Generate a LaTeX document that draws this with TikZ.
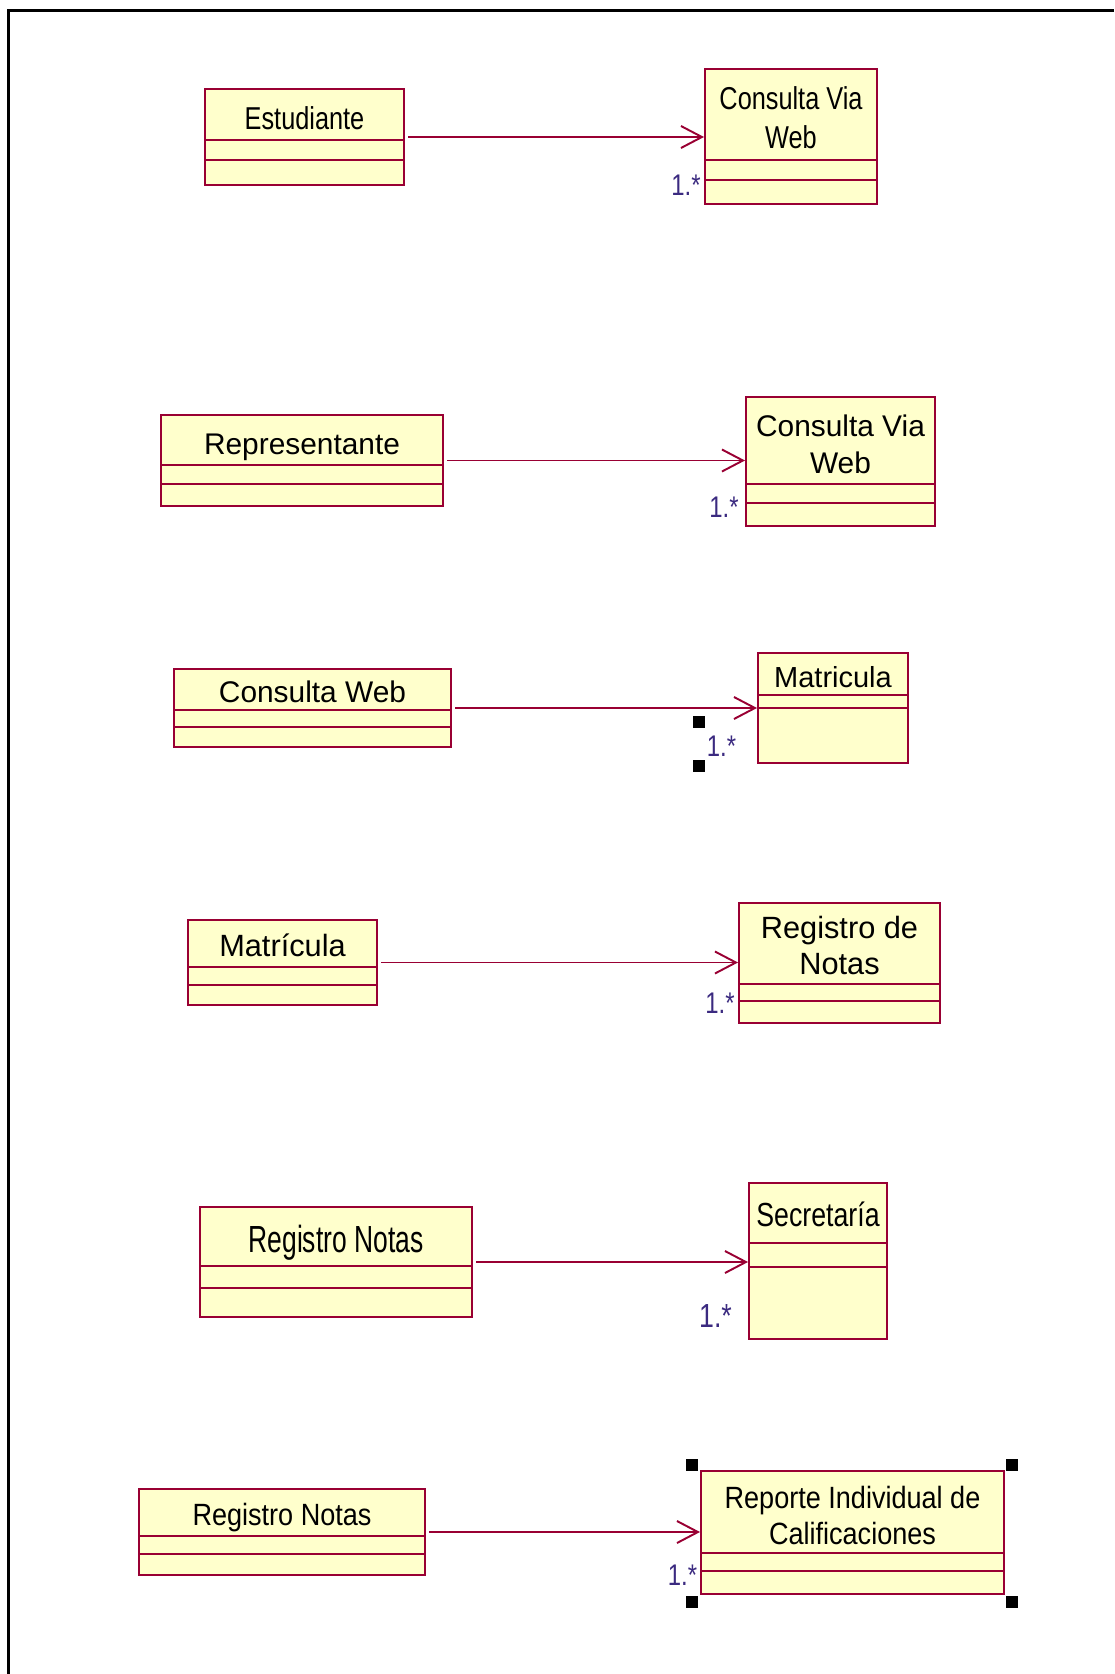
\documentclass[tikz,border=0pt]{standalone}
\usepackage{fontspec}
\setmainfont{Liberation Sans}
\newfontfamily\narrowfont[FakeStretch=0.8]{Liberation Sans}
\newfontfamily\slimfont[FakeStretch=0.88]{Liberation Sans}
\newfontfamily\tallfont[FakeStretch=0.7]{Liberation Sans}
\usetikzlibrary{arrows.meta,positioning}

\definecolor{classline}{HTML}{990033}
\definecolor{classfill}{HTML}{FFFFCC}
\definecolor{multtext}{HTML}{3B2A80}

\begin{document}
\begin{tikzpicture}[
    >={Straight Barb[length=4.2mm,width=4.4mm]},
    line width=1.1pt,
    class/.style={draw=classline, fill=classfill, inner sep=0pt},
    classname/.style={anchor=base, align=center, inner sep=0pt, font=\fontsize{17}{21}\selectfont},
    divider/.style={draw=classline},
    assoc/.style={->, draw=classline, shorten <=2pt},
    mult/.style={anchor=base, text=multtext, inner sep=0pt, font=\narrowfont\fontsize{17}{20}\selectfont},
    handle/.style={fill=black, minimum size=2.4mm, inner sep=0pt}
]
    \useasboundingbox (0,0) rectangle (22.28,-33.48);
    \draw[line width=1.4pt] (22.28,-0.21) -- (0.17,-0.21) -- (0.17,-33.48);

    % Estudiante -> Consulta Via Web
    % (two-line names sit on the baseline of their last line)
    \node[class, minimum width=3.98cm, minimum height=1.92cm] (estudiante) at (6.09,-2.74) {};
    \draw[divider] (4.10,-2.80) -- (8.08,-2.80);
    \draw[divider] (4.10,-3.20) -- (8.08,-3.20);
    \node[classname, font=\narrowfont\fontsize{18}{22}\selectfont] at (6.09,-2.59) {Estudiante};

    \node[class, minimum width=3.44cm, minimum height=2.70cm] (viaweb1) at (15.82,-2.73) {};
    \draw[divider] (14.10,-3.20) -- (17.54,-3.20);
    \draw[divider] (14.10,-3.60) -- (17.54,-3.60);
    \node[classname, font=\narrowfont\fontsize{18}{22}\selectfont] at (15.82,-2.97) {Consulta Via\\Web};

    \draw[assoc] (estudiante.east) -- (estudiante.east -| viaweb1.west);
    \node[mult] (m1) at (13.72,-3.90) {1.*};

    % Representante -> Consulta Via Web
    \node[class, minimum width=5.64cm, minimum height=1.82cm] (representante) at (6.04,-9.21) {};
    \draw[divider] (3.22,-9.30) -- (8.86,-9.30);
    \draw[divider] (3.22,-9.68) -- (8.86,-9.68);
    \node[classname] at (6.04,-9.08) {Representante};

    \node[class, minimum width=3.78cm, minimum height=2.58cm] (viaweb2) at (16.81,-9.23) {};
    \draw[divider] (14.92,-9.68) -- (18.70,-9.68);
    \draw[divider] (14.92,-10.06) -- (18.70,-10.06);
    \node[classname] at (16.81,-9.46) {Consulta Via\\Web};

    \draw[assoc] (representante.east) -- (representante.east -| viaweb2.west);
    \node[mult] (m2) at (14.48,-10.34) {1.*};

    % Consulta Web -> Matricula
    \node[class, minimum width=5.54cm, minimum height=1.56cm] (consultaweb) at (6.25,-14.16) {};
    \draw[divider] (3.48,-14.20) -- (9.02,-14.20);
    \draw[divider] (3.48,-14.54) -- (9.02,-14.54);
    \node[classname] at (6.25,-14.04) {Consulta Web};

    \node[class, minimum width=3.00cm, minimum height=2.20cm] (matricula) at (16.66,-14.16) {};
    \draw[divider] (15.16,-13.90) -- (18.16,-13.90);
    \draw[divider] (15.16,-14.16) -- (18.16,-14.16);
    \node[classname, font=\fontsize{16.5}{20}\selectfont] at (16.66,-13.74) {Matricula};

    \draw[assoc] (consultaweb.east) -- (consultaweb.east -| matricula.west);
    \node[mult] (m3) at (14.43,-15.12) {1.*};
    \node[handle] (h1) at (13.97,-14.44) {};
    \node[handle] (h2) at (13.97,-15.32) {};

    % Matrícula -> Registro de Notas
    \node[class, minimum width=3.78cm, minimum height=1.70cm] (matricula2) at (5.65,-19.25) {};
    \draw[divider] (3.76,-19.34) -- (7.54,-19.34);
    \draw[divider] (3.76,-19.70) -- (7.54,-19.70);
    \node[classname, font=\fontsize{17.5}{20}\selectfont] at (5.65,-19.12) {Matrícula};

    \node[class, minimum width=4.02cm, minimum height=2.40cm] (registro) at (16.79,-19.26) {};
    \draw[divider] (14.78,-19.68) -- (18.80,-19.68);
    \draw[divider] (14.78,-20.02) -- (18.80,-20.02);
    \node[classname, font=\fontsize{17.5}{20}\selectfont] at (16.79,-19.48) {Registro de\\Notas};

    \draw[assoc] (matricula2.east) -- (matricula2.east -| registro.west);
    \node[mult] (m4) at (14.40,-20.27) {1.*};

    % Registro Notas -> Secretaría
    \node[class, minimum width=5.44cm, minimum height=2.20cm] (notas1) at (6.72,-25.24) {};
    \draw[divider] (4.00,-25.32) -- (9.44,-25.32);
    \draw[divider] (4.00,-25.76) -- (9.44,-25.76);
    \node[classname, font=\tallfont\fontsize{21.5}{24}\selectfont] at (6.72,-25.04) {Registro Notas};

    \node[class, minimum width=2.76cm, minimum height=3.12cm] (secretaria) at (16.36,-25.22) {};
    \draw[divider] (14.98,-24.86) -- (17.74,-24.86);
    \draw[divider] (14.98,-25.34) -- (17.74,-25.34);
    \node[classname, font=\narrowfont\fontsize{19}{22}\selectfont] at (16.36,-24.52) {Secretaría};

    \draw[assoc] (notas1.east) -- (notas1.east -| secretaria.west);
    \node[mult, font=\narrowfont\fontsize{19}{22}\selectfont] (m5) at (14.31,-26.55) {1.*};

    % Registro Notas -> Reporte Individual de Calificaciones
    \node[class, minimum width=5.72cm, minimum height=1.72cm] (notas2) at (5.64,-30.64) {};
    \draw[divider] (2.78,-30.72) -- (8.50,-30.72);
    \draw[divider] (2.78,-31.08) -- (8.50,-31.08);
    \node[classname, font=\slimfont\fontsize{17.5}{20}\selectfont] at (5.64,-30.50) {Registro Notas};

    \node[class, minimum width=6.06cm, minimum height=2.46cm] (reporte) at (17.05,-30.65) {};
    \draw[divider] (14.02,-31.06) -- (20.08,-31.06);
    \draw[divider] (14.02,-31.42) -- (20.08,-31.42);
    \node[classname, font=\slimfont\fontsize{17.5}{20}\selectfont] at (17.05,-30.88) {Reporte Individual de\\Calificaciones};

    \draw[assoc] (notas2.east) -- (notas2.east -| reporte.west);
    \node[mult] (m6) at (13.65,-31.70) {1.*};
    \node[handle] (h3) at ([shift={(-0.16,0.11)}]reporte.north west) {};
    \node[handle] (h4) at ([shift={(0.15,0.11)}]reporte.north east) {};
    \node[handle] (h5) at ([shift={(-0.16,-0.14)}]reporte.south west) {};
    \node[handle] (h6) at ([shift={(0.15,-0.14)}]reporte.south east) {};
\end{tikzpicture}
\end{document}
